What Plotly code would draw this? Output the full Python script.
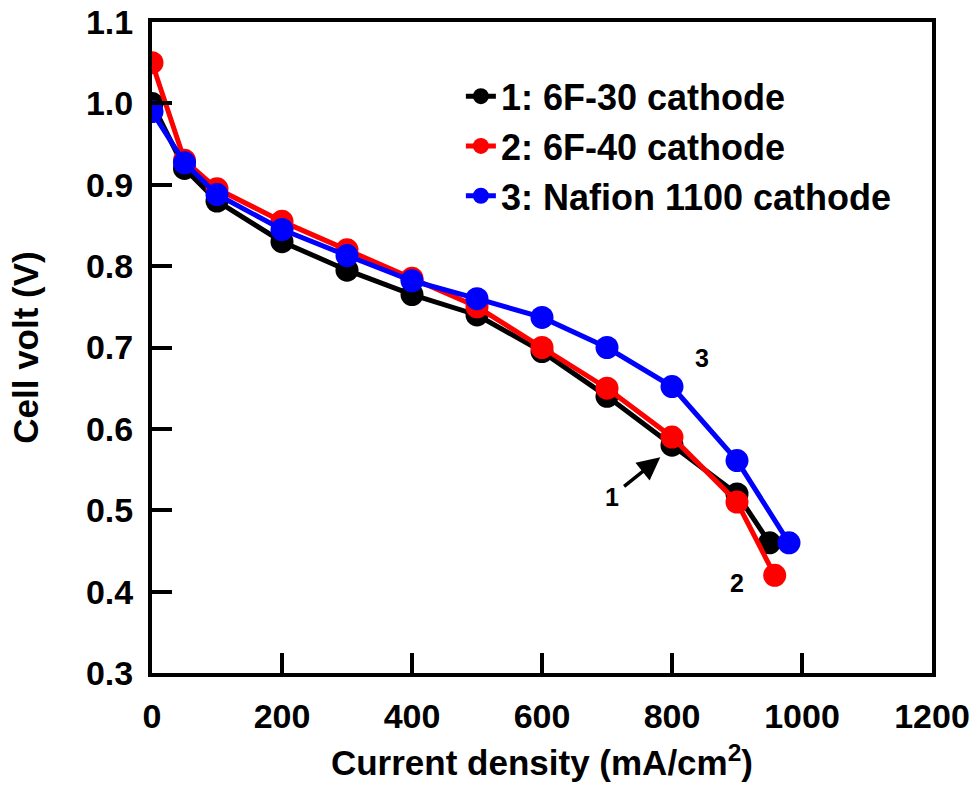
import plotly.graph_objects as go

x1 = [0, 50, 100, 200, 300, 400, 500, 600, 700, 800, 900, 950]
y1 = [1.00, 0.92, 0.88, 0.83, 0.795, 0.765, 0.74, 0.695, 0.64, 0.58, 0.52, 0.46]
x2 = [0, 50, 100, 200, 300, 400, 500, 600, 700, 800, 900, 958]
y2 = [1.05, 0.93, 0.895, 0.855, 0.82, 0.785, 0.75, 0.70, 0.65, 0.59, 0.51, 0.42]
x3 = [0, 50, 100, 200, 300, 400, 500, 600, 700, 800, 900, 980]
y3 = [0.99, 0.927, 0.888, 0.845, 0.813, 0.782, 0.76, 0.737, 0.70, 0.652, 0.561, 0.46]
names = ["1: 6F-30 cathode", "2: 6F-40 cathode", "3: Nafion 1100 cathode"]
colors = ["#000000", "#ff0000", "#0000ff"]

FONT = "Liberation Sans, Arial, sans-serif"

fig = go.Figure()
for xs, ys, nm, c in zip([x1, x2, x3], [y1, y2, y3], names, colors):
    fig.add_trace(go.Scatter(x=xs, y=ys, name=nm, mode="lines+markers",
                             line=dict(color=c, width=5),
                             marker=dict(color=c, size=23)))

axis_common = dict(showline=True, linecolor="black", linewidth=4, mirror=True,
                   ticks="inside", ticklen=20, tickwidth=4, tickcolor="black",
                   showgrid=False, zeroline=False, automargin=False,
                   tickfont=dict(family=FONT, size=34, color="black", weight="bold"))

fig.update_xaxes(range=[0, 1200], dtick=200, ticklabelstandoff=10,
                 title=dict(text="<b>Current density (mA/cm<sup>2</sup>)</b>",
                            font=dict(family=FONT, size=35, color="black"), standoff=18),
                 **axis_common)
fig.update_yaxes(range=[0.3, 1.1], dtick=0.1, tickformat=".1f", ticklabelstandoff=8,
                 title=dict(text="<b>Cell volt (V)</b>",
                            font=dict(family=FONT, size=35, color="black"), standoff=38),
                 **axis_common)

annots = [("1", 708, 0.516), ("2", 900, 0.41), ("3", 846, 0.687)]
for t, ax_, ay_ in annots:
    fig.add_annotation(x=ax_, y=ay_, text=f"<b>{t}</b>", showarrow=False,
                       font=dict(family=FONT, size=25, color="black"))
fig.add_annotation(x=782, y=0.565, ax=724, ay=0.528, axref="x", ayref="y",
                   text="", showarrow=True, arrowhead=2, arrowsize=1.3, arrowwidth=3.5,
                   arrowcolor="black")

fig.update_layout(
    width=972, height=808,
    margin=dict(l=152, r=40, t=22, b=135),
    paper_bgcolor="white", plot_bgcolor="white",
    legend=dict(x=0.396, y=0.932, xanchor="left", yanchor="top",
                bgcolor="rgba(0,0,0,0)", tracegroupgap=0,
                font=dict(family=FONT, size=36, color="black", weight="bold")),
)

fig.write_html("out.html")
